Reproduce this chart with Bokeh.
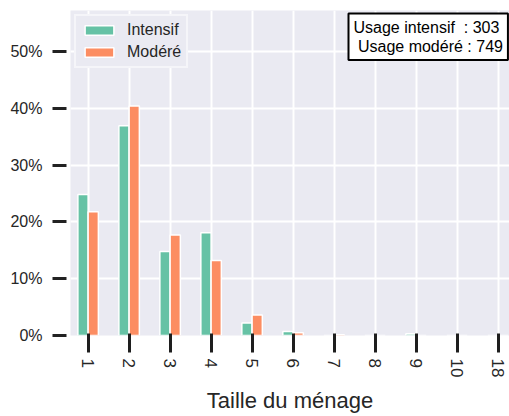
from bokeh.plotting import figure
from bokeh.models import (Range1d, FixedTicker, NumeralTickFormatter, Legend, LegendItem,
                          Label, ColumnDataSource)
from bokeh.transform import dodge
from bokeh.embed import file_html
from bokeh.resources import INLINE

categories = ["1", "2", "3", "4", "5", "6", "7", "8", "9", "10", "18"]
intensif = [0.248, 0.369, 0.148, 0.181, 0.022, 0.007, 0.0, 0.0, 0.003, 0.0, 0.0]
modere = [0.218, 0.404, 0.177, 0.132, 0.036, 0.005, 0.0013, 0.0, 0.0, 0.0, 0.0]
n_intensif = 303
n_modere = 749
y_ticks = [0, 0.1, 0.2, 0.3, 0.4, 0.5]

FONT = "Liberation Sans"
TXT = "#262626"
NB = "\u00a0"

idx = list(range(len(categories)))
src = ColumnDataSource(dict(idx=idx, intensif=intensif, modere=modere))

p = figure(width=509, height=416,
           x_range=Range1d(-0.43, 10.28), y_range=Range1d(0, 0.572),
           output_backend="svg", toolbar_location=None,
           min_border_left=70, min_border_top=10, min_border_right=0, min_border_bottom=80)

p.background_fill_color = "#EAEAF2"
p.border_fill_color = "white"
p.outline_line_color = None

r1 = p.vbar(x=dodge("idx", -0.125, range=p.x_range), top="intensif", width=0.25, source=src,
            fill_color="#66c2a5", line_color="white", line_width=1.5)
r2 = p.vbar(x=dodge("idx", 0.125, range=p.x_range), top="modere", width=0.25, source=src,
            fill_color="#fc8d62", line_color="white", line_width=1.5)

p.grid.grid_line_color = "white"
p.grid.grid_line_width = 2
p.grid.level = "underlay"

xax = p.xaxis[0]
yax = p.yaxis[0]

xax.ticker = FixedTicker(ticks=idx)
xax.major_label_overrides = {i: c for i, c in zip(idx, categories)}
xax.major_label_orientation = "vertical"
yax.ticker = FixedTicker(ticks=y_ticks)
yax.formatter = NumeralTickFormatter(format="0%")

for ax in (xax, yax):
    ax.axis_line_color = None
    ax.minor_tick_line_color = None
    ax.major_tick_line_width = 3
    ax.major_label_text_font = FONT
    ax.major_label_text_color = TXT
    ax.major_label_text_font_size = "16px"

yax.major_tick_line_color = "#222222"
yax.major_tick_in = -4
yax.major_tick_out = 18
yax.major_label_standoff = 10

xax.major_tick_line_color = "#1e1e1e"
xax.major_tick_in = 2
xax.major_tick_out = 17
xax.major_label_standoff = 6
xax.major_label_text_font_size = "17px"

xax.axis_label = "Taille du ménage"
xax.axis_label_text_font = FONT
xax.axis_label_text_font_style = "normal"
xax.axis_label_text_font_size = "22px"
xax.axis_label_text_color = TXT
xax.axis_label_standoff = 8

legend = Legend(items=[LegendItem(label="Intensif", renderers=[r1]),
                       LegendItem(label="Modéré", renderers=[r2])],
                location="top_left", margin=4, padding=5, spacing=4,
                label_standoff=10, glyph_width=36, glyph_height=12,
                label_text_font=FONT, label_text_font_size="16px", label_text_color=TXT,
                background_fill_color="#EAEAF2", background_fill_alpha=1.0,
                border_line_color="white", border_line_width=2)
p.add_layout(legend)

info = Label(x=278, y=322, x_units="screen", y_units="screen",
             text=f"Usage intensif{NB}{NB}: {n_intensif}\n{NB}Usage modéré : {n_modere}",
             text_font=FONT, text_font_size="16px", text_color="black",
             text_align="left", text_baseline="top", text_line_height=1.15,
             background_fill_color="white", border_line_color="black",
             border_line_width=2, padding=5)
p.add_layout(info)

open("out.html", "w").write(file_html(p, INLINE))
